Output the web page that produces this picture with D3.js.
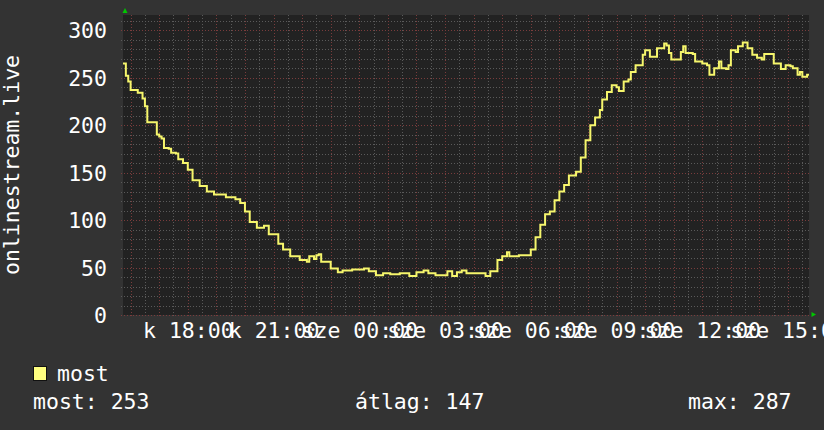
<!DOCTYPE html>
<html>
<head>
<meta charset="utf-8">
<script src="https://cdn.jsdelivr.net/npm/d3@7"></script>
<style>
  body { margin: 0; background: #333; }
  text { font-family: "DejaVu Sans Mono", monospace; fill: #fff; }
</style>
</head>
<body>
<svg class="chart"></svg>
<script>
// one day of viewer counts, Tue 15:44 -> Wed 15:44 (rrd style step line)
var times = [
  "15:44","15:50","15:55","16:00","16:10","16:15","16:25","16:30","16:35","16:55",
  "17:00","17:05","17:10","17:20","17:25","17:35","17:40","17:50","18:00","18:10",
  "18:25","18:40","18:55","19:20","19:40","19:50","20:00","20:10","20:25","20:40",
  "20:50","21:10","21:20","21:35","21:55","22:10","22:15","22:25","22:30","22:35",
  "22:40","23:00","23:15","23:25","23:45","00:00","00:10","00:20","00:35","00:50",
  "01:05","01:25","01:45","02:00","02:15","02:25","02:40","02:55","03:05","03:15",
  "03:25","03:35","03:45","04:05","04:25","04:35","04:50","05:00","05:10","05:15",
  "05:35","06:00","06:10","06:20","06:30","06:40","06:50","07:00","07:10","07:20",
  "07:35","07:45","07:55","08:05","08:15","08:25","08:30","08:40","08:50","09:00",
  "09:05","09:15","09:25","09:30","09:40","09:55","10:00","10:10","10:25","10:40",
  "10:45","10:50","10:55","11:15","11:20","11:25","11:40","11:45","12:00","12:10",
  "12:15","12:25","12:35","12:40","12:50","12:55","13:00","13:10","13:15","13:25",
  "13:35","13:45","13:55","14:05","14:10","14:30","14:45","14:55","15:05","15:10",
  "15:20","15:25","15:30","15:40","15:44"
];
var viewers = [
  265,252,246,237,237,234,228,220,203,190,
  188,186,176,175,171,170,164,160,153,142,
  136,130,127,124,122,118,109,98,92,94,
  85,75,69,62,58,56,62,59,63,64,
  56,49,45,47,48,48,49,46,42,44,
  43,44,41,45,47,44,42,42,46,41,
  45,47,44,44,41,46,58,62,66,62,
  63,69,82,95,106,109,121,130,137,147,
  151,166,184,200,208,216,227,235,242,240,
  236,246,248,256,263,274,279,272,281,286,
  284,276,269,277,283,276,275,267,265,263,
  253,260,267,260,259,263,279,277,283,287,
  281,274,271,269,275,265,259,263,262,260,
  253,256,251,253,253
];
var yTicks = [0, 50, 100, 150, 200, 250, 300];
var yLabel = "onlinestream.live";
var seriesName = "most";
var legendStats = [["most", 253], ["átlag", 147], ["max", 287]];

var width = 824, height = 430;
var plotLeft = 123, plotRight = 809, plotTop = 15, plotBottom = 315;

var svg = d3.select(".chart").attr("width", width).attr("height", height);

// build dates, rolling over midnight
var day = new Date(2023, 2, 7);
var prev = -1;
var data = times.map(function(t, i) {
  var p = t.split(":"), m = +p[0] * 60 + +p[1];
  if (m < prev) day = d3.timeDay.offset(day, 1);
  prev = m;
  var d = new Date(day);
  d.setHours(+p[0], +p[1]);
  return { date: d, value: viewers[i] };
});

var x = d3.scaleTime()
  .domain([data[0].date, data[data.length - 1].date])
  .range([plotLeft, plotRight]);
var y = d3.scaleLinear().domain([0, 316]).range([plotBottom, plotTop]);

var hu = d3.timeFormatLocale({
  dateTime: "%Y. %B %-e., %A %X", date: "%Y. %m. %d.", time: "%H:%M:%S",
  periods: ["de.", "du."],
  days: ["vasárnap","hétfő","kedd","szerda","csütörtök","péntek","szombat"],
  shortDays: ["v","h","k","sze","cs","p","szo"],
  months: ["január","február","március","április","május","június","július","augusztus","szeptember","október","november","december"],
  shortMonths: ["jan.","feb.","már.","ápr.","máj.","jún.","júl.","aug.","szept.","okt.","nov.","dec."]
});

svg.append("rect").attr("width", width).attr("height", height).attr("fill", "#333");
svg.append("rect")
  .attr("x", plotLeft).attr("y", plotTop)
  .attr("width", plotRight - plotLeft).attr("height", plotBottom - plotTop)
  .attr("fill", "#222");

var grid = svg.append("g").attr("shape-rendering", "crispEdges");

// minor grid
grid.selectAll(".vmin").data(d3.timeMinute.every(30).range(x.domain()[0], x.domain()[1]))
  .enter().append("line")
  .attr("x1", function(d){ return Math.round(x(d)) + 0.5; })
  .attr("x2", function(d){ return Math.round(x(d)) + 0.5; })
  .attr("y1", plotTop).attr("y2", plotBottom + 2)
  .attr("stroke", "#5a5a5a").attr("stroke-dasharray", "1,2");
grid.selectAll(".hmin").data(d3.range(10, 316, 10))
  .enter().append("line")
  .attr("x1", plotLeft - 2).attr("x2", plotRight)
  .attr("y1", function(d){ return Math.round(y(d)) + 0.5; })
  .attr("y2", function(d){ return Math.round(y(d)) + 0.5; })
  .attr("stroke", "#5a5a5a").attr("stroke-dasharray", "1,2");

// major grid
grid.selectAll(".vmaj").data(d3.timeHour.every(1).range(x.domain()[0], x.domain()[1]))
  .enter().append("line")
  .attr("x1", function(d){ return Math.round(x(d)) + 0.5; })
  .attr("x2", function(d){ return Math.round(x(d)) + 0.5; })
  .attr("y1", plotTop).attr("y2", plotBottom + 2)
  .attr("stroke", "#7a3c3c").attr("stroke-dasharray", "1,2");
grid.selectAll(".hmaj").data(yTicks)
  .enter().append("line")
  .attr("x1", plotLeft - 2).attr("x2", plotRight)
  .attr("y1", function(d){ return Math.round(y(d)) + 0.5; })
  .attr("y2", function(d){ return Math.round(y(d)) + 0.5; })
  .attr("stroke", "#7a3c3c").attr("stroke-dasharray", "1,2");

// series
svg.append("clipPath").attr("id", "clip")
  .append("rect").attr("x", plotLeft).attr("y", plotTop)
  .attr("width", plotRight - plotLeft).attr("height", plotBottom - plotTop);

var line = d3.line()
  .x(function(d){ return x(d.date); })
  .y(function(d){ return y(d.value); })
  .curve(d3.curveStepAfter);

svg.append("path").datum(data)
  .attr("clip-path", "url(#clip)")
  .attr("d", line)
  .attr("fill", "none")
  .attr("stroke", "#f6f66c")
  .attr("stroke-width", 2);

// arrows
svg.append("path").attr("d", "M122.5,13L127.5,13L125,8Z").attr("fill", "#00c800");
svg.append("path").attr("d", "M811.5,312L811.5,317L816,314.5Z").attr("fill", "#00c800");

// axes
var yAxis = svg.append("g")
  .attr("transform", "translate(" + plotLeft + ",0)")
  .call(d3.axisLeft(y).tickValues(yTicks).tickSize(0).tickPadding(16));
yAxis.select(".domain").remove();
yAxis.selectAll("text").attr("font-size", 21.5).attr("dy", "0.36em")
  .style("font-family", "DejaVu Sans Mono").attr("fill", "#fff");

var xAxis = svg.append("g")
  .attr("transform", "translate(0," + plotBottom + ")")
  .call(d3.axisBottom(x).ticks(d3.timeHour.every(3)).tickFormat(hu.format("%a %H:%M"))
    .tickSize(0).tickPadding(8));
xAxis.select(".domain").remove();
xAxis.selectAll("text").attr("font-size", 21.5).attr("dy", "0.71em")
  .style("font-family", "DejaVu Sans Mono").attr("fill", "#fff");

svg.append("text")
  .attr("transform", "translate(19," + ((plotTop + plotBottom) / 2) + ") rotate(-90)")
  .attr("text-anchor", "middle")
  .attr("font-size", 21.5)
  .text(yLabel);

// legend
svg.append("rect").attr("x", 33.5).attr("y", 366.5).attr("width", 13).attr("height", 14)
  .attr("fill", "#ffff80").attr("stroke", "#111");
svg.append("text").attr("x", 57).attr("y", 381).attr("font-size", 21.5).text(seriesName);

var statX = [33, 355, 688];
svg.selectAll(".stat").data(legendStats).enter().append("text")
  .attr("x", function(d, i){ return statX[i]; })
  .attr("y", 409)
  .attr("font-size", 21.5)
  .text(function(d){ return d[0] + ": " + d[1]; });
</script>
</body>
</html>
